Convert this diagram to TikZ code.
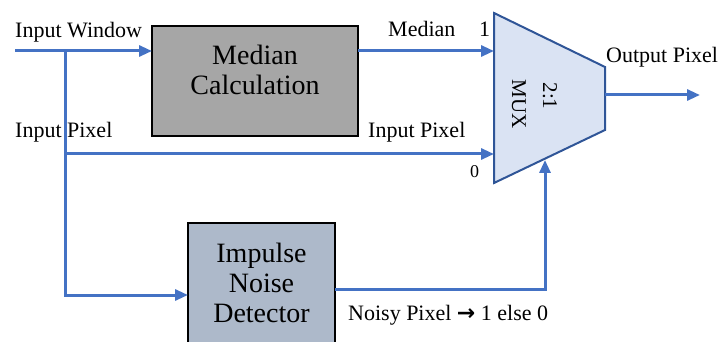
\documentclass[tikz,border=0pt]{standalone}
\usepackage{fontspec}
\setmainfont{Liberation Serif}
\newfontfamily\serif{Liberation Serif}
\newfontfamily\arrowfont{DejaVu Sans}
\usetikzlibrary{arrows.meta}
\definecolor{lineblue}{HTML}{4472C4}
\definecolor{medgray}{HTML}{A6A6A6}
\definecolor{detfill}{HTML}{ADB9CA}
\definecolor{muxfill}{HTML}{DAE3F3}
\definecolor{muxdraw}{HTML}{2F5597}
\begin{document}
\begin{tikzpicture}[x=1pt,y=-1pt,
  wire/.style={draw=lineblue,line width=3pt},
  arr/.style={wire,-{Triangle[length=13pt,width=11pt,fill=lineblue]}},
  lbl/.style={anchor=base west,font=\serif\fontsize{22}{26}\selectfont,inner sep=0pt},
  block/.style={draw=black,line width=2.2pt,inner sep=0pt},
  blocktext/.style={anchor=base,font=\serif\fontsize{28}{30}\selectfont,inner sep=0pt},
  muxtext/.style={anchor=base,rotate=-90,font=\serif\fontsize{21}{24}\selectfont,inner sep=0pt}]
\useasboundingbox (0,0) rectangle (723,342);
% blocks
\node[block,fill=medgray,minimum width=206pt,minimum height=110pt] (median) at (255,81) {};
\node[block,fill=detfill,minimum width=147pt,minimum height=122pt] (det) at (261.5,284) {};
% mux
\coordinate (mtl) at (494,13);
\coordinate (mtr) at (605,67);
\coordinate (mbr) at (605,130);
\coordinate (mbl) at (494,183);
\draw[fill=muxfill,draw=muxdraw,line width=2pt,line join=miter] (mtl) -- (mtr) -- (mbr) -- (mbl) -- cycle;
% connection points
\coordinate (iw) at (15,51);
\coordinate (sp) at (65,51);
\coordinate (medin) at (152,51);
\coordinate (medout) at (358,51);
\coordinate (m1) at (494,51);
\coordinate (m0) at (494,154);
\coordinate (detin) at (188,295);
\coordinate (detout) at (335,289);
\coordinate (msel) at (545,160);
\coordinate (mout) at (605,95);
\coordinate (outend) at (700,95);
% wires
\draw[arr] (iw) -- (medin);
\draw[arr] (sp) |- (detin);
\draw[arr] (sp |- m0) -- (m0);
\draw[arr] (medout) -- (m1);
\draw[arr] (detout) -| (msel);
\draw[arr] (mout) -- (outend);
% labels
\node[lbl] (l1) at (15,38) {Input Window};
\node[lbl] (l2) at (15,138) {Input Pixel};
\node[lbl] (l3) at (388,37) {Median};
\node[lbl] (l4) at (479,37) {1};
\node[lbl] (l5) at (368,138) {Input Pixel};
\node[lbl,font=\serif\fontsize{18}{20}\selectfont] (l6) at (470,178) {0};
\node[lbl] (l7) at (606,63) {Output Pixel};
\node[lbl] (l8) at (348,320) {Noisy Pixel {\arrowfont\bfseries →} 1 else 0};
% block texts
\node[blocktext] (medtext1) at (255,65) {Median};
\node[blocktext] (medtext2) at (255,95) {Calculation};
\node[blocktext] (dettext1) at (261.5,262) {Impulse};
\node[blocktext] (dettext2) at (261.5,292) {Noise};
\node[blocktext] (dettext3) at (261.5,322) {Detector};
\node[muxtext] (muxtext1) at (543,96) {2:1};
\node[muxtext] (muxtext2) at (512,104) {MUX};
\end{tikzpicture}
\end{document}
